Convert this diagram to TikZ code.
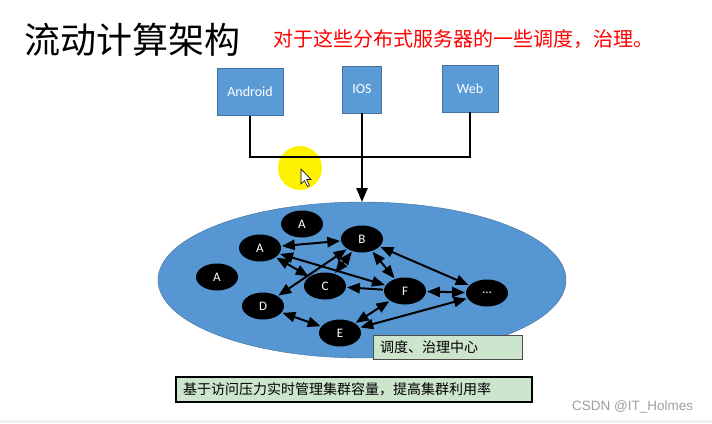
\documentclass[tikz,border=0pt]{standalone}
\usepackage{fontspec}
\setmainfont{Carlito}
\newfontfamily\cjk{Noto Sans CJK SC}
\newfontfamily\marksans{Liberation Sans}
\usepackage{xcolor}
\usetikzlibrary{arrows}
\usetikzlibrary{shapes.geometric}
\definecolor{boxblue}{RGB}{91,155,213}
\definecolor{boxedge}{RGB}{65,113,156}
\definecolor{cloudblue}{RGB}{86,150,210}
\definecolor{notegreen}{RGB}{204,229,204}

\begin{document}
\begin{tikzpicture}
		[x=1pt,y=-1pt,>=triangle 45,
		client/.style={draw=boxedge,fill=boxblue,text=white,minimum height=47pt,font=\fontsize{14}{14}\selectfont},
		server/.style={ellipse,fill=black,text=white,minimum width=42pt,minimum height=27pt,inner sep=0pt,font=\fontsize{13}{13}\selectfont},
		link/.style={<->,line width=2pt,shorten <=1pt,shorten >=1pt},
		wire/.style={line width=2.2pt},
		note/.style={fill=notegreen,inner xsep=7pt,inner ysep=0pt,align=left,font=\cjk\fontsize{14}{14}\selectfont}]
		\useasboundingbox (0,0) rectangle (712,423);
		\fill [gray!12] (0,420) rectangle (712,423);
		% titles
		\node [inner sep=0pt, anchor=west, font=\cjk\fontsize{36}{36}\selectfont] (title) at (24,40) {流动计算架构};
		\node [inner sep=0pt, anchor=west, text=red, font=\cjk\fontsize{20}{20}\selectfont] (remark) at (273,39) {对于这些分布式服务器的一些调度，治理。};
		% clients
		\node [client, minimum width=66pt] (android) at (250,92) {Android};
		\node [client, minimum width=39pt] (ios) at (362,89.5) {IOS};
		\node [client, minimum width=56pt] (web) at (470,88.5) {Web};
		\fill [yellow] (300,168) circle (22pt);
		\coordinate (hub) at (362,157);
		\draw [wire] (android.south) |- (hub) -| (web.south);
		% cluster
		\node [ellipse, draw=boxedge, fill=cloudblue, inner sep=0pt, minimum width=408pt, minimum height=156pt] (cloud) at (362,280) {};
		\draw [wire,->] (ios.south) -- (cloud.north);
		\draw [fill=white, line width=0.6pt] (301,169) -- (301,184) -- (304.5,180.5) -- (307.5,186.5) -- (309.5,185.5) -- (306.5,179.5) -- (311,179.5) -- cycle;
		\node [server] (a1) at (302,224) {A};
		\node [server] (a2) at (260,248) {A};
		\node [server] (a3) at (217,277) {A};
		\node [server] (b) at (362,239) {B};
		\node [server] (c) at (325,286) {C};
		\node [server] (d) at (263,306) {D};
		\node [server] (e) at (340,333) {E};
		\node [server] (f) at (405,291) {F};
		\node [server] (more) at (487,293) {...};
		\draw [link] (a2) -- (b);
		\draw [link] (a2) -- (f);
		\draw [link] (a2) -- (c);
		\draw [link] (b) -- (d);
		\draw [link] (b) -- (c);
		\draw [link] (b) -- (f);
		\draw [link] (b) -- (more);
		\draw [link,<-] (c) -- (f);
		\draw [link] (f) -- (more);
		\draw [link] (f) -- (e);
		\draw [link] (d) -- (e);
		\draw [link] (e) -- (more);
		% notes
		\node [note, draw=black!70, line width=1pt, text width=135pt, minimum height=24pt] (center) at (447.5,347) {调度、治理中心};
		\node [note, draw=black, line width=1.5pt, text width=342pt, minimum height=25pt] (summary) at (354,389.5) {基于访问压力实时管理集群容量，提高集群利用率};
		\node [inner sep=0pt, anchor=west, text=gray!75, font=\marksans\fontsize{13.5}{13.5}\selectfont] (mark) at (572,407) {CSDN @IT\_Holmes};
	\end{tikzpicture}
\end{document}
